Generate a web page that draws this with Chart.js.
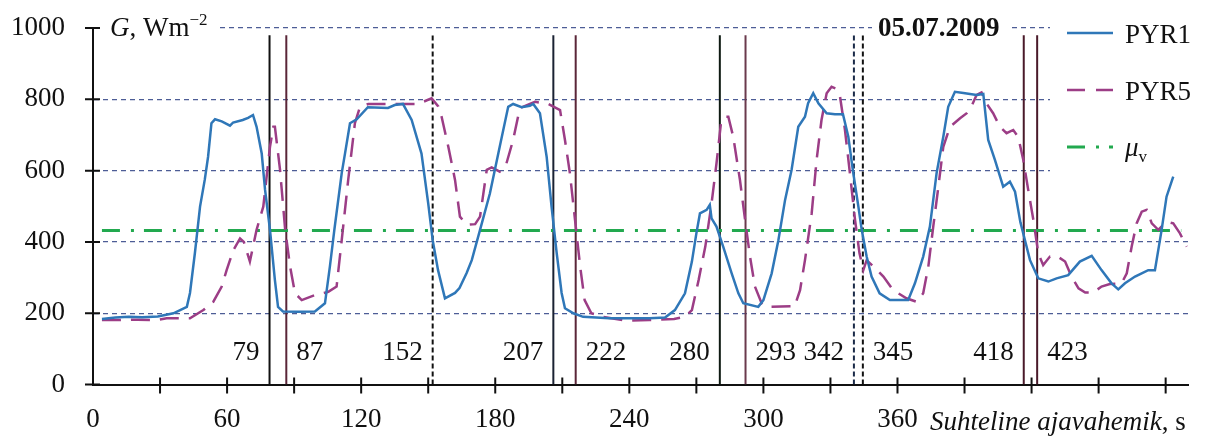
<!DOCTYPE html>
<html lang="et">
<head>
    <meta charset="UTF-8">
    <title>PYR1 / PYR5 05.07.2009</title>
    <script src="https://cdn.jsdelivr.net/npm/chart.js"></script>
    <style>
        body { margin: 0; background: #fff; }
    </style>
</head>
<body>

    <canvas id="myChart" width="1217" height="439"></canvas>

    <script>
        // Data (time in s, irradiance in W/m2)
        const pyr1Time = [4, 10, 16, 22, 29, 36, 42, 43.4, 45.6, 47.9, 50, 51.5, 53, 54.6, 57.6, 61.3, 62.7, 67, 69.4, 71.6,
            73.2, 75.5, 77, 79.2, 81.4, 82.8, 85, 92, 99.3, 103.8, 106, 108, 111.3, 112.8, 115, 118, 123, 132, 135, 138.7,
            142.6, 147, 150, 152, 154.4, 157.5, 162, 164, 167.2, 169.5, 173.2, 177.6, 182, 185.8, 188, 191.8, 195.5, 197, 200, 203,
            205.2, 207.5, 209.7, 211.2, 215, 219.3, 231, 249, 256, 260.4, 264.9, 268, 270, 271.6, 274.6, 276, 276.8, 279, 282, 285.8,
            288.8, 291, 297.7, 300, 303.7, 306.7, 309.7, 312.6, 315.6, 318.6, 320, 322.3, 324.6, 328.3, 332, 335.6, 338, 340, 342.5, 344,
            346.2, 348.4, 352, 356.6, 364.8, 367.8, 371.5, 374.5, 377.5, 380.5, 382.7, 385.7, 389.5, 395.4, 398.4, 400.6, 403.6, 407.3, 410.3, 412.6,
            415, 419.3, 423, 427.5, 431.2, 436.4, 441.6, 446.9, 451.3, 455.8, 458.8, 461.8, 466.3, 472.2, 475.2, 478.2, 480.4, 483.4];
        const pyr1Values = [184, 188, 190, 189, 191, 200, 218, 257, 369, 499, 574, 639, 733, 744, 738, 726, 735, 742, 748, 756,
            723, 648, 546, 434, 293, 218, 205, 204, 205, 228, 331, 434, 593, 649, 733, 744, 778, 776, 784, 787,
            742, 648, 508, 405, 321, 242, 257, 271, 313, 349, 434, 536, 667, 779, 787, 778, 782, 787, 761, 639,
            499, 369, 257, 214, 200, 190, 186, 186, 188, 209, 256, 345, 424, 480, 490, 504, 466, 443, 387, 312,
            256, 228, 218, 237, 312, 405, 518, 602, 723, 751, 789, 817, 789, 761, 758, 758, 695, 602, 499, 434,
            359, 303, 256, 237, 237, 284, 359, 443, 593, 695, 779, 821, 818, 812, 815, 686, 630, 555, 569, 541,
            455, 349, 298, 289, 298, 307, 345, 361, 321, 284, 267, 284, 303, 321, 321, 434, 527, 583];

        const pyr5Time = [4, 12, 20, 28.5, 33, 43.4, 49.4, 53.8, 57.6, 59.8, 62.8, 65.8, 67.5, 70.2, 73.2, 76.2, 79.2, 80.7, 81.4, 83.7,
            86, 88.2, 90.4, 93.4, 99.3, 105.3, 109, 111.3, 114.2, 117.2, 119.5, 123.2, 133.7, 145.6, 151.5, 154.5, 156, 159, 162, 164.2,
            167.2, 171, 173.2, 176.2, 178.4, 182, 185, 188, 191, 195.5, 197.8, 203.7, 209, 211.2, 213.4, 215.7, 218, 220, 223, 228.3,
            238.8, 249, 260, 265, 268, 271, 274, 276.8, 279, 281, 282.8, 284.3, 286.5, 289.5, 291.8, 294, 296.2, 299.2, 301.4, 314,
            316.4, 318.6, 321.6, 323.8, 326, 328.3, 330.5, 332.5, 334.3, 336.5, 338.7, 341, 343, 344.7, 346.2, 349.2, 353.7, 358, 364, 368.6,
            371.5, 373.8, 376, 378.3, 380.5, 383.5, 388, 391, 393, 395.4, 397.6, 399.8, 402.8, 405.8, 408.8, 411.8, 414, 416.3, 418.5, 420.8,
            423, 425.2, 428.2, 431.2, 435, 437.9, 441, 444, 447.6, 451.3, 455, 460.3, 462.6, 464.8, 467, 469.3, 471.5, 473.8, 476.7, 480.4,
            483.4, 486.4, 489.4];
        const pyr5Values = [181, 181, 182, 181, 186, 186, 209, 232, 275, 321, 377, 410, 400, 345, 434, 499, 667, 723, 723, 602,
            434, 331, 256, 237, 251, 260, 275, 405, 574, 733, 779, 787, 787, 787, 803, 780, 751, 667, 574, 471,
            448, 450, 471, 602, 609, 597, 620, 686, 775, 787, 793, 787, 770, 686, 593, 462, 331, 237, 200, 190,
            179, 181, 184, 190, 209, 293, 387, 508, 620, 733, 751, 751, 695, 574, 462, 359, 275, 228, 218, 220,
            265, 349, 480, 630, 742, 817, 835, 830, 807, 714, 593, 462, 368, 321, 349, 331, 303, 265, 242, 232,
            256, 331, 443, 555, 667, 723, 747, 761, 779, 812, 819, 789, 761, 723, 705, 714, 695, 630, 546, 462,
            368, 335, 359, 361, 345, 303, 270, 258, 258, 275, 282, 284, 312, 387, 452, 485, 490, 452, 434, 457,
            452, 424, 387];

        const meanValue = 432;          // mu_v level
        const meanStart = 4;
        const meanEnd = 487;

        // vertical marker lines: where they stand and what they are labelled
        const markerTimes = [79, 86.5, 152, 206, 216, 280.5, 292, 340.5, 344.5, 416.5, 422.5];
        const markerLabels = ['79', '87', '152', '207', '222', '280', '293', '342', '345', '418', '423'];
        const markerTop = 980;
        const markerLabelLevel = 90;

        const xTickLabels = [0, 60, 120, 180, 240, 300, 360];
        const yTickValues = [0, 200, 400, 600, 800, 1000];

        // styles
        const markerColors = ['#111', '#5a2638', '#111', '#1a2233', '#5a2638', '#0e1a12', '#6a3a4c', '#1a2a48', '#111', '#4a1a2a', '#4a1a2a'];
        const markerDashed = [false, false, true, false, false, false, false, true, true, false, false];
        const markerLabelLeft = [true, false, true, true, false, true, false, true, false, true, false];

        const blue = '#2f77b8';
        const purple = '#9c3d86';
        const green = '#22a94f';
        const gridColor = '#4d5d96';
        const serif = '"Liberation Serif", "Times New Roman", serif';

        Chart.defaults.font.family = serif;
        Chart.defaults.color = '#111';

        const toPoints = (t, v) => t.map((x, i) => ({ x: x, y: v[i] }));

        const datasets = [
            {
                label: 'PYR1', data: toPoints(pyr1Time, pyr1Values),
                borderColor: blue, borderWidth: 2.5, pointRadius: 0, tension: 0, fill: false
            },
            {
                label: 'PYR5', data: toPoints(pyr5Time, pyr5Values),
                borderColor: purple, borderWidth: 2.5, borderDash: [19, 10], pointRadius: 0, tension: 0, fill: false
            },
            {
                label: 'μv', data: [{ x: meanStart, y: meanValue }, { x: meanEnd, y: meanValue }],
                borderColor: green, borderWidth: 3, borderDash: [18, 11, 3, 10], pointRadius: 0, fill: false
            }
        ];
        markerTimes.forEach((t, i) => {
            datasets.push({
                label: 'm' + markerLabels[i],
                data: [{ x: t, y: 0 }, { x: t, y: markerTop }],
                borderColor: markerColors[i], borderWidth: 2,
                borderDash: markerDashed[i] ? [5, 3] : [],
                pointRadius: 0, fill: false
            });
        });

        // extra drawing: crossing tick marks, marker labels, legend, axis captions
        const decorations = {
            id: 'decorations',
            beforeDatasetsDraw(chart) {
                const ctx = chart.ctx;
                ctx.save();
                ctx.fillStyle = '#fff';
                ctx.fillRect(95, 23, 123, 10);      // behind "G, Wm-2"
                ctx.fillRect(872, 23, 140, 10);     // behind the date
                ctx.fillRect(1050, 0, 167, 176);    // behind the legend
                ctx.restore();
            },
            afterDraw(chart) {
                const ctx = chart.ctx;
                const xs = chart.scales.x;
                const ys = chart.scales.y;
                const area = chart.chartArea;
                ctx.save();

                // tick marks crossing the axes
                ctx.strokeStyle = '#111';
                ctx.lineWidth = 2;
                ctx.beginPath();
                yTickValues.forEach(v => {
                    const py = ys.getPixelForValue(v);
                    ctx.moveTo(area.left - 8, py);
                    ctx.lineTo(area.left + 7, py);
                });
                for (let t = 30; t <= 480; t += 30) {
                    const px = xs.getPixelForValue(t);
                    ctx.moveTo(px, area.bottom - 7);
                    ctx.lineTo(px, area.bottom + 9);
                }
                ctx.stroke();

                // marker labels
                ctx.fillStyle = '#111';
                ctx.font = '27px ' + serif;
                ctx.textBaseline = 'middle';
                const ly = ys.getPixelForValue(markerLabelLevel);
                markerTimes.forEach((t, i) => {
                    const px = xs.getPixelForValue(t);
                    if (markerLabelLeft[i]) {
                        ctx.textAlign = 'right';
                        ctx.fillText(markerLabels[i], px - 10, ly);
                    } else {
                        ctx.textAlign = 'left';
                        ctx.fillText(markerLabels[i], px + 10, ly);
                    }
                });

                ctx.textBaseline = 'alphabetic';
                ctx.textAlign = 'left';

                // y axis caption: G, Wm-2
                let x = 110;
                ctx.font = 'italic 27px ' + serif;
                ctx.fillText('G', x, 36);
                x += ctx.measureText('G').width;
                ctx.font = '27px ' + serif;
                ctx.fillText(', Wm', x, 36);
                x += ctx.measureText(', Wm').width;
                ctx.font = '17px ' + serif;
                ctx.fillText('−2', x, 25);

                // date
                ctx.font = 'bold 27px ' + serif;
                ctx.fillText('05.07.2009', 878, 36);

                // x axis caption
                x = 930;
                ctx.font = 'italic 27px ' + serif;
                ctx.fillText('Suhteline ajavahemik', x, 430);
                x += ctx.measureText('Suhteline ajavahemik').width;
                ctx.font = '27px ' + serif;
                ctx.fillText(', s', x, 430);

                // legend
                const lx1 = 1067, lx2 = 1113, tx = 1125;
                ctx.lineWidth = 2.5;
                ctx.strokeStyle = blue;
                ctx.setLineDash([]);
                ctx.beginPath(); ctx.moveTo(lx1, 33); ctx.lineTo(lx2, 33); ctx.stroke();
                ctx.strokeStyle = purple;
                ctx.setLineDash([18, 11]);
                ctx.beginPath(); ctx.moveTo(lx1, 90); ctx.lineTo(lx2, 90); ctx.stroke();
                ctx.strokeStyle = green;
                ctx.lineWidth = 3;
                ctx.setLineDash([18, 11, 3, 10]);
                ctx.beginPath(); ctx.moveTo(lx1, 147); ctx.lineTo(lx2, 147); ctx.stroke();
                ctx.setLineDash([]);

                ctx.fillStyle = '#111';
                ctx.font = '27px ' + serif;
                ctx.fillText('PYR1', tx, 43);
                ctx.fillText('PYR5', tx, 100);
                ctx.font = 'italic 27px ' + serif;
                ctx.fillText('μ', tx, 156);
                const mw = ctx.measureText('μ').width;
                ctx.font = '17px ' + serif;
                ctx.fillText('v', tx + mw, 162);

                ctx.restore();
            }
        };

        const ctx = document.getElementById('myChart').getContext('2d');
        new Chart(ctx, {
            type: 'line',
            data: { datasets: datasets },
            options: {
                responsive: false,
                animation: false,
                devicePixelRatio: 1,
                layout: { padding: { top: 28, right: 29, left: 0, bottom: 0 } },
                plugins: {
                    legend: { display: false },
                    tooltip: { enabled: false }
                },
                scales: {
                    x: {
                        type: 'linear',
                        min: 0,
                        max: 490,
                        grid: { display: false, drawTicks: false },
                        border: { display: true, color: '#111', width: 2 },
                        ticks: {
                            stepSize: 30,
                            includeBounds: false,
                            autoSkip: false,
                            maxRotation: 0,
                            padding: 19,
                            color: '#111',
                            font: { size: 27 },
                            callback: v => xTickLabels.includes(v) ? String(v) : ''
                        },
                        afterFit: s => { s.height = 54.4; s.paddingLeft = 0; s.paddingRight = 0; }
                    },
                    y: {
                        min: 0,
                        max: 1000,
                        grid: {
                            color: c => (c.tick && c.tick.value === 0) ? 'rgba(0,0,0,0)' : gridColor,
                            lineWidth: 1.2,
                            drawTicks: false
                        },
                        border: { display: true, color: '#111', width: 2, dash: [5, 4] },
                        ticks: {
                            stepSize: 200,
                            padding: 28,
                            color: '#111',
                            font: { size: 27 },
                            callback: v => String(v)
                        },
                        afterFit: s => { s.width = 93; s.paddingTop = 0; s.paddingBottom = 0; }
                    }
                }
            },
            plugins: [decorations]
        });
    </script>

</body>
</html>
